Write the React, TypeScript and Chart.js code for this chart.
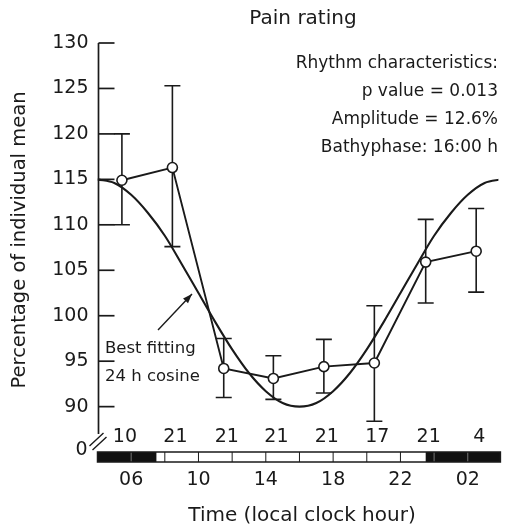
import React, { useEffect, useRef } from "react";
import { Chart, registerables } from "chart.js";

Chart.register(...registerables);

// ---- data ----
const pointHours = [5.45, 8.45, 11.5, 14.45, 17.45, 20.45, 23.5, 26.5];
const meanValues = [114.9, 116.3, 94.2, 93.1, 94.4, 94.8, 105.9, 107.1];
const errorUpper = [120.0, 125.3, 97.5, 95.6, 97.4, 101.1, 110.6, 111.8];
const errorLower = [110.0, 107.6, 91.0, 90.8, 91.5, 88.4, 101.4, 102.6];
const subjectCounts = ["10", "21", "21", "21", "21", "17", "21", "4"];

const cosineHours = [4, 5, 6, 7, 8, 9, 10, 11, 12, 13, 14, 15, 16, 17, 18, 19, 20, 21, 22, 23, 24, 25, 26, 27, 28];
const cosineValues = [115.0, 114.6, 113.3, 111.3, 108.8, 105.7, 102.5, 99.3, 96.3, 93.7, 91.7, 90.4, 90.0, 90.4, 91.7, 93.7, 96.3, 99.3, 102.5, 105.7, 108.8, 111.3, 113.3, 114.6, 115.0];

const yTickValues = [90, 95, 100, 105, 110, 115, 120, 125, 130];
const xTickHours = [6, 10, 14, 18, 22, 26];
const xTickLabels = ["06", "10", "14", "18", "22", "02"];
const darkPeriods = [
  [4, 7.5],
  [23.5, 28],
];
const barDividerHours = [6, 8, 10, 12, 14, 16, 18, 20, 22, 24, 26];

const titleText = "Pain rating";
const yAxisTitle = "Percentage of individual mean";
const xAxisTitle = "Time (local clock hour)";
const rhythmLines = ["Rhythm characteristics:", "p value = 0.013", "Amplitude = 12.6%", "Bathyphase: 16:00 h"];
const cosineNote = ["Best fitting", "24 h cosine"];

const FONT = "'DejaVu Sans', sans-serif";
const INK = "#1a1a1a";

const decorPlugin = {
  id: "decor",
  beforeDatasetsDraw(chart: any) {
    const { ctx, scales } = chart;
    const x = scales.x;
    const y = scales.y;
    ctx.save();
    ctx.strokeStyle = INK;
    ctx.lineWidth = 1.6;
    pointHours.forEach((h, i) => {
      const px = x.getPixelForValue(h);
      const top = y.getPixelForValue(errorUpper[i]);
      const bot = y.getPixelForValue(errorLower[i]);
      ctx.beginPath();
      ctx.moveTo(px, top);
      ctx.lineTo(px, bot);
      ctx.moveTo(px - 8, top);
      ctx.lineTo(px + 8, top);
      ctx.moveTo(px - 8, bot);
      ctx.lineTo(px + 8, bot);
      ctx.stroke();
    });
    ctx.restore();
  },
  afterDraw(chart: any) {
    const { ctx, scales, chartArea } = chart;
    const x = scales.x;
    const y = scales.y;
    const left = chartArea.left;
    ctx.save();
    ctx.strokeStyle = INK;
    ctx.fillStyle = INK;

    // y axis line with break
    ctx.lineWidth = 1.7;
    ctx.beginPath();
    ctx.moveTo(left + 1, y.getPixelForValue(130));
    ctx.lineTo(left + 1, 434);
    ctx.stroke();
    // inward ticks
    yTickValues.forEach((v) => {
      const py = y.getPixelForValue(v);
      ctx.beginPath();
      ctx.moveTo(left + 1, py);
      ctx.lineTo(left + 17, py);
      ctx.stroke();
    });
    // break marks
    ctx.lineWidth = 1.4;
    ctx.beginPath();
    ctx.moveTo(left - 8, 446);
    ctx.lineTo(left + 6, 433);
    ctx.moveTo(left - 5, 450);
    ctx.lineTo(left + 9, 437);
    ctx.stroke();

    // light/dark bar
    const barTop = chartArea.bottom - 10;
    const barBot = chartArea.bottom;
    const x0 = x.getPixelForValue(4);
    const x1 = chartArea.right + 2;
    ctx.fillStyle = "#ffffff";
    ctx.fillRect(x0, barTop, x1 - x0, barBot - barTop);
    ctx.fillStyle = "#111";
    darkPeriods.forEach(([a, b]) => {
      const pa = x.getPixelForValue(a);
      const pb = Math.min(x.getPixelForValue(b), x1);
      ctx.fillRect(pa, barTop, pb - pa, barBot - barTop);
    });
    ctx.lineWidth = 1;
    barDividerHours.forEach((h) => {
      const px = x.getPixelForValue(h);
      const dark = darkPeriods.some(([a, b]) => h > a && h < b);
      ctx.strokeStyle = dark ? "#777" : INK;
      ctx.beginPath();
      ctx.moveTo(px, barTop);
      ctx.lineTo(px, barBot);
      ctx.stroke();
    });
    ctx.strokeStyle = INK;
    ctx.lineWidth = 1.5;
    ctx.strokeRect(x0, barTop, x1 - x0, barBot - barTop);

    ctx.fillStyle = INK;
    ctx.textBaseline = "middle";
    // zero label
    ctx.font = `19px ${FONT}`;
    ctx.textAlign = "center";
    ctx.fillText("0", left - 16, 450);

    // subject counts
    ctx.font = `19px ${FONT}`;
    ctx.textAlign = "center";
    pointHours.forEach((h, i) => {
      ctx.fillText(subjectCounts[i], x.getPixelForValue(h) + 3, 437);
    });

    // title
    ctx.textBaseline = "alphabetic";
    ctx.font = `20px ${FONT}`;
    ctx.textAlign = "center";
    ctx.fillText(titleText, 303, 24);

    // rhythm characteristics
    ctx.font = `17px ${FONT}`;
    ctx.textAlign = "right";
    rhythmLines.forEach((t, i) => ctx.fillText(t, 498, 68 + i * 28));

    // cosine note
    ctx.font = `16.5px ${FONT}`;
    ctx.textAlign = "left";
    cosineNote.forEach((t, i) => ctx.fillText(t, 105, 353 + i * 28));

    // arrow
    const ax0 = 158, ay0 = 330, ax1 = 192, ay1 = 294;
    ctx.lineWidth = 1.4;
    ctx.beginPath();
    ctx.moveTo(ax0, ay0);
    ctx.lineTo(ax1, ay1);
    ctx.stroke();
    const ang = Math.atan2(ay1 - ay0, ax1 - ax0);
    ctx.beginPath();
    ctx.moveTo(ax1, ay1);
    ctx.lineTo(ax1 - 10 * Math.cos(ang - 0.35), ay1 - 10 * Math.sin(ang - 0.35));
    ctx.lineTo(ax1 - 10 * Math.cos(ang + 0.35), ay1 - 10 * Math.sin(ang + 0.35));
    ctx.closePath();
    ctx.fill();

    // axis titles
    ctx.font = `20px ${FONT}`;
    ctx.textAlign = "center";
    ctx.textBaseline = "middle";
    ctx.fillText(xAxisTitle, 302, 516);
    ctx.save();
    ctx.translate(20, 240);
    ctx.rotate(-Math.PI / 2);
    ctx.font = `19.5px ${FONT}`;
    ctx.fillText(yAxisTitle, 0, 0);
    ctx.restore();

    ctx.restore();
  },
};

export default function App() {
  const canvasRef = useRef<HTMLCanvasElement | null>(null);

  useEffect(() => {
    if (!canvasRef.current) return;
    const chart = new Chart(canvasRef.current, {
      type: "line",
      data: {
        datasets: [
          {
            label: "Mean",
            data: pointHours.map((h, i) => ({ x: h, y: meanValues[i] })),
            borderColor: INK,
            borderWidth: 1.9,
            tension: 0,
            pointRadius: 5,
            pointHoverRadius: 5,
            pointBackgroundColor: "#ffffff",
            pointBorderColor: INK,
            pointBorderWidth: 1.6,
          },
          {
            label: "Cosine",
            data: cosineHours.map((h, i) => ({ x: h, y: cosineValues[i] })),
            borderColor: INK,
            borderWidth: 2.1,
            pointRadius: 0,
            cubicInterpolationMode: "monotone",
          },
        ],
      },
      options: {
        animation: false,
        responsive: false,
        events: [],
        layout: { padding: { top: 43, left: 0, right: 0, bottom: 0 } },
        plugins: {
          legend: { display: false },
          tooltip: { enabled: false },
          title: { display: false },
        },
        scales: {
          x: {
            type: "linear",
            min: 4,
            max: 27.82,
            grid: { display: false, drawTicks: false },
            border: { display: false },
            afterBuildTicks: (scale: any) => {
              scale.ticks = xTickHours.map((v) => ({ value: v }));
            },
            afterFit: (scale: any) => {
              scale.height = 69;
            },
            ticks: {
              autoSkip: false,
              maxRotation: 0,
              padding: 7,
              color: INK,
              font: { family: FONT, size: 19 },
              callback: (v: any) => {
                const idx = xTickHours.indexOf(Number(v));
                return idx >= 0 ? xTickLabels[idx] : "";
              },
            },
          },
          y: {
            type: "linear",
            min: 83.91,
            max: 130,
            grid: { display: false, drawTicks: false },
            border: { display: false },
            afterBuildTicks: (scale: any) => {
              scale.ticks = yTickValues.map((v) => ({ value: v }));
            },
            afterFit: (scale: any) => {
              scale.width = 97.5;
            },
            ticks: {
              padding: 9,
              color: INK,
              font: { family: FONT, size: 19 },
            },
          },
        },
      },
      plugins: [decorPlugin],
    });
    return () => chart.destroy();
  }, []);

  return (
    <div style={{ position: "fixed", left: 0, top: 0, width: 505, height: 531, background: "#fff" }}>
      <canvas ref={canvasRef} width={505} height={531} style={{ display: "block" }} />
    </div>
  );
}
